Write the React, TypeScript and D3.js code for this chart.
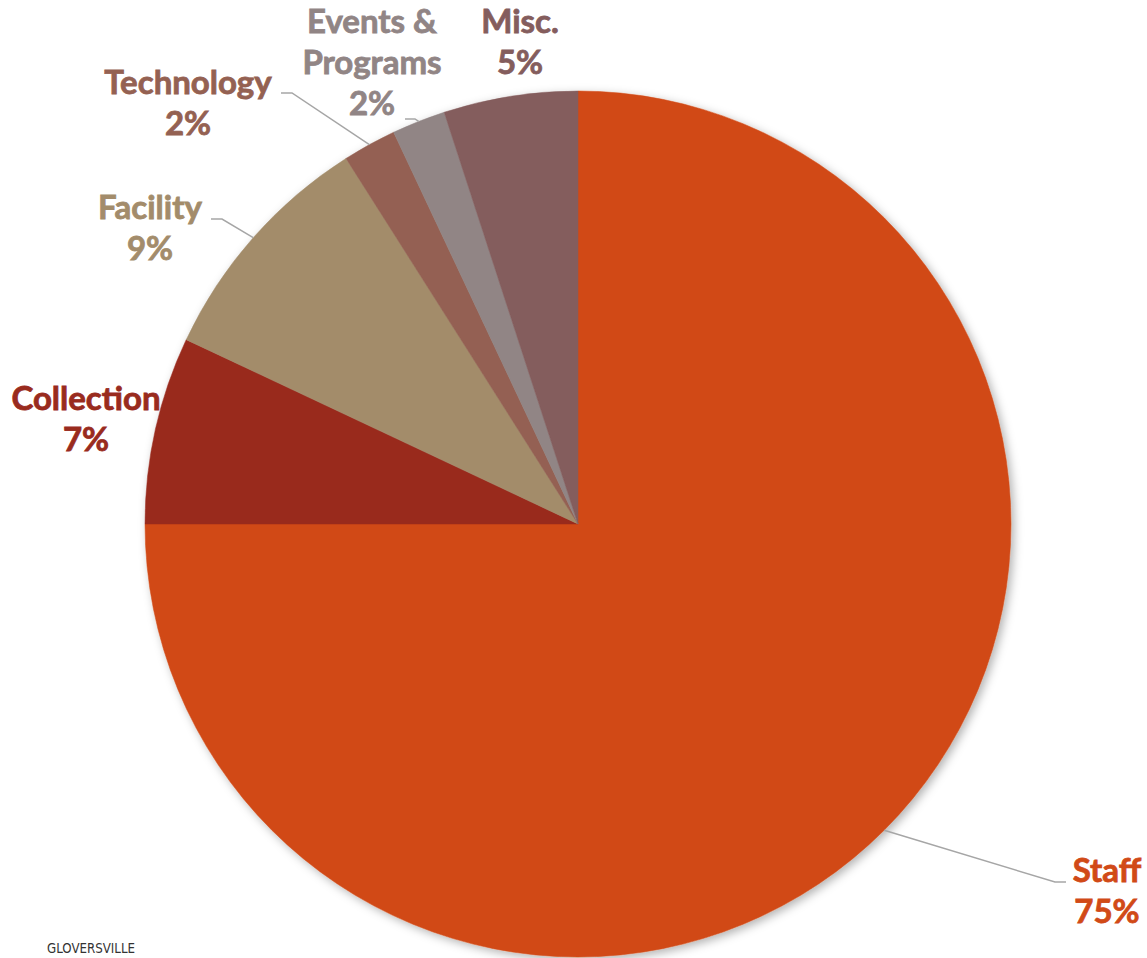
import React from "react";
import * as d3 from "d3";

const categories = ["Staff", "Collection", "Facility", "Technology", "Events & Programs", "Misc."];
const values = [75, 7, 9, 2, 2, 5];
const colors = ["#D14A17", "#992B1E", "#A38C6B", "#946152", "#918585", "#845D5D"];
const labelLines = [["Staff"], ["Collection"], ["Facility"], ["Technology"], ["Events &", "Programs"], ["Misc."]];

// label layout: center x, first baseline, leader line horizontal segment (hx -> ex at y) then to slice edge
const labelLayout = [
  { cx: 1107, y: 882, leader: { hx: 1066, ex: 1055, y: 882 } },
  { cx: 86, y: 410, leader: null },
  { cx: 150, y: 219, leader: { hx: 211, ex: 222, y: 219 } },
  { cx: 188, y: 94, leader: { hx: 281, ex: 292, y: 93 } },
  { cx: 372, y: 33, leader: { hx: 405, ex: 415, y: 119 } },
  { cx: 520, y: 33, leader: null },
];

const W = 1147;
const H = 958;
const CX = 578;
const CY = 524;
const R = 433;
const LINE_H = 41;

export default function App() {
  const total = d3.sum(values);
  const pie = d3.pie<number>().sort(null).startAngle(0).endAngle(2 * Math.PI);
  const arcs = pie(values);
  const arc = d3.arc<d3.PieArcDatum<number>>().innerRadius(0).outerRadius(R);
  const edgeArc = d3.arc<d3.PieArcDatum<number>>().innerRadius(R).outerRadius(R);

  return (
    <svg
      width={W}
      height={H}
      style={{ position: "absolute", left: 0, top: 0, background: "#fff" }}
      fontFamily="Lato, 'Open Sans', sans-serif"
    >
      <defs>
        <filter id="shadow" x="-10%" y="-10%" width="120%" height="120%">
          <feDropShadow dx="3" dy="3" stdDeviation="5" floodColor="#000" floodOpacity="0.3" />
        </filter>
      </defs>
      <g transform={`translate(${CX},${CY})`}>
        <g filter="url(#shadow)">
          {arcs.map((a, i) => (
            <path key={i} d={arc(a) || ""} fill={colors[i]} stroke={colors[i]} strokeWidth={0.5} />
          ))}
        </g>
        {arcs.map((a, i) => {
          const L = labelLayout[i];
          if (!L.leader) return null;
          const [mx, my] = edgeArc.centroid(a);
          const pts = [
            [L.leader.hx - CX, L.leader.y - CY],
            [L.leader.ex - CX, L.leader.y - CY],
            [mx, my],
          ];
          return (
            <polyline
              key={"l" + i}
              points={pts.map((p) => p.join(",")).join(" ")}
              fill="none"
              stroke="#A6A6A6"
              strokeWidth={1.5}
            />
          );
        })}
      </g>
      {arcs.map((a, i) => {
        const L = labelLayout[i];
        const pct = Math.round((values[i] / total) * 100) + "%";
        const lines = [...labelLines[i], pct];
        return (
          <text
            key={"t" + i}
            textAnchor="middle"
            fill={colors[i]}
            stroke={colors[i]}
            strokeWidth={0.8}
            fontSize={33}
            fontWeight={700}
          >
            {lines.map((ln, j) => (
              <tspan key={j} x={L.cx} y={L.y + j * LINE_H}>
                {ln}
              </tspan>
            ))}
          </text>
        );
      })}
      <text
        x={47}
        y={953}
        fontSize={14}
        fill="#333"
        textLength={88}
        lengthAdjust="spacingAndGlyphs"
        fontFamily="'DejaVu Sans Condensed', 'Liberation Sans Narrow', sans-serif"
      >
        GLOVERSVILLE
      </text>
    </svg>
  );
}
